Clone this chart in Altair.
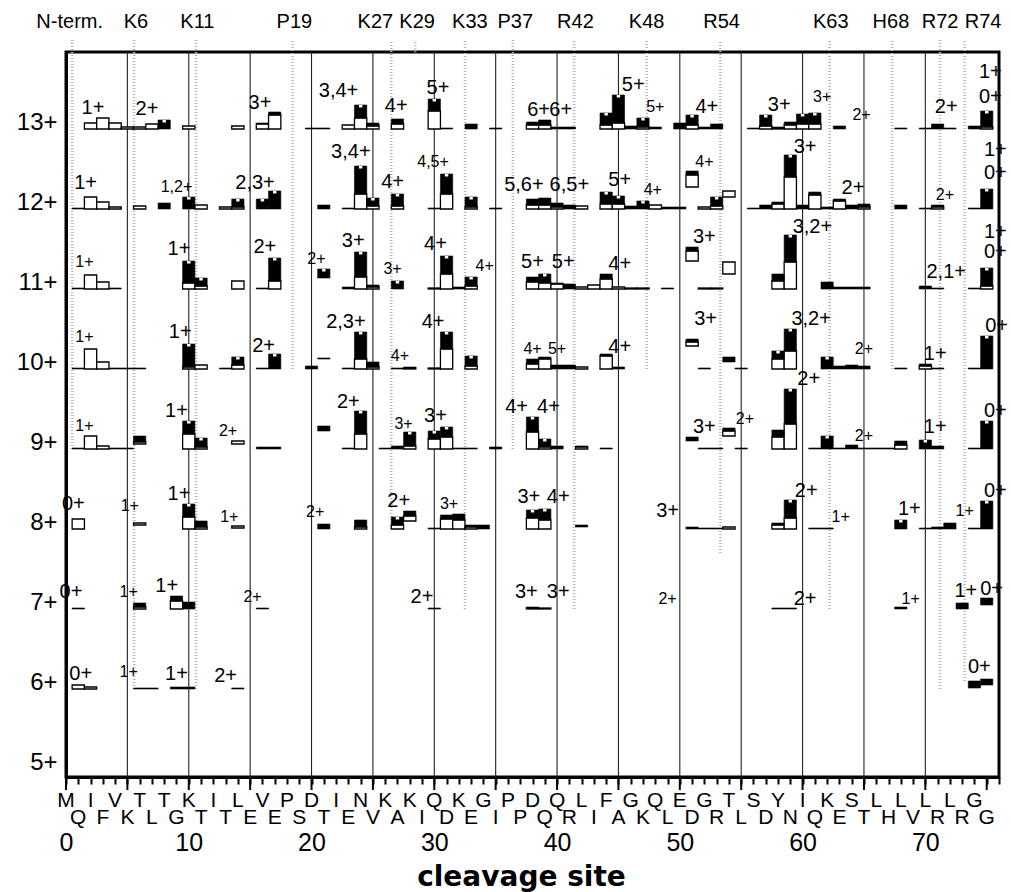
import altair as alt
import pandas as pd

UNIT = 80.0  # abundance units that equal one charge-state row

ROWS = [13, 12, 11, 10, 9, 8, 7, 6]
ROW_TICKS = [5, 6, 7, 8, 9, 10, 11, 12, 13]

# (site, white part, black part, lift)
BARS_13 = [(2,6,0),(3,11,0),(4,6,0),(5,2,0),(6,2,0),(7,5,0),(8,0,9),(10,3,0),(14,3,0),(16,5,1),(17,14,3),
           (20,0,1),(21,0,1),(23,4,0),(24,11,13),(25,3,3),(27,5,5),(30,18,12),(31,0,1),(33,0,5),(35,0,1),
           (38,4,3),(39,4,5),(40,0,2),(41,0,2),(44,4,12),(45,6,28),(46,0,3),(47,2,9),(48,0,2),(50,0,6),
           (51,4,10),(52,0,2),(53,0,5),(56,0,1),(57,3,11),(58,1,1),(59,4,3),(60,5,10),(61,5,11),(63,0,3),
           (68,0,1),(70,0,1),(71,0,5),(72,0,1),(74,0,3),(75,2,16)]
BARS_12 = [(1,0,1),(2,12,0),(3,7,0),(4,2,0),(6,3,0),(8,0,6),(10,0,12),(11,4,0),(13,2,0),(14,2,8),(16,0,10),
           (17,0,18),(21,0,4),(23,0,1),(24,15,28),(25,3,8),(27,3,12),(30,0,1),(31,15,20),(33,2,10),(35,0,1),
           (38,4,6),(39,4,7),(40,2,4),(41,0,4),(42,3,0),(44,5,12),(45,5,8),(46,0,3),(47,0,8),(48,4,0),
           (49,0,2),(50,0,2),(51,12,4,22),(52,2,0),(53,3,9),(54,6,0,12),(56,0,1),(57,0,4),(58,5,2),(59,32,22),
           (60,0,4),(61,14,3),(62,0,2),(63,8,2),(64,0,4),(65,2,3),(68,0,4),(70,0,1),(71,2,2),(74,0,1),(75,0,20)]
BARS_11 = [(1,0,1),(2,14,0),(3,7,0),(4,0,1),(10,6,22),(11,3,8),(14,8,0),(16,0,1),(17,8,23),(21,0,9,11),
           (23,0,2),(24,12,25),(25,2,2),(27,0,8),(30,1,0),(31,15,18),(32,0,2),(33,3,9),(38,7,5),(39,6,9),
           (40,5,1),(41,0,5),(42,2,0),(43,4,0),(44,10,5),(45,2,0),(46,1,0),(47,1,0),(49,0,1),(51,10,4,28),
           (52,1,0),(53,1,0),(54,12,0,15),(58,8,7),(59,27,27),(62,0,7),(63,0,2),(64,0,2),(65,0,2),(70,0,3),
           (71,0,1),(74,0,1),(75,3,18)]
BARS_10 = [(1,0,1),(2,20,0),(3,7,0),(4,0,1),(5,0,1),(6,0,1),(10,2,23),(11,4,0),(13,0,1),(14,4,8),(16,0,1),
           (17,0,15),(20,0,3),(21,0,1,10),(23,0,1),(24,10,27),(25,2,5),(27,0,1),(28,1,1),(30,1,0),(31,20,17),
           (33,3,10),(38,5,5),(39,10,2),(40,0,4),(41,0,4),(42,2,0),(44,13,2),(45,0,2),(51,4,3,23),(52,0,1),
           (54,0,5,7),(55,0,1),(58,10,8),(59,18,22),(62,0,12),(63,0,3),(64,0,4),(65,0,3),(68,0,1),(70,3,2),
           (71,0,1),(74,0,1),(75,0,33)]
BARS_9 = [(1,0,1),(2,13,0),(3,3,0),(4,0,1),(5,0,1),(6,2,6,5),(10,15,13),(11,2,9),(14,3,0,5),(16,0,2),(17,0,2),
          (21,0,5,18),(23,0,1),(24,15,23),(26,0,1),(27,0,3),(28,3,14),(30,10,8),(31,12,10),(32,0,1),(33,0,1),
          (35,0,2),(38,17,15),(39,2,8),(40,0,3),(42,2,1),(44,0,1),(51,0,4,8),(52,0,1),(53,0,1),(54,5,3,13),
          (55,0,1),(58,12,7),(59,25,35),(61,0,1),(62,0,13),(63,0,1),(64,0,4),(65,0,1),(66,0,1),(67,0,1),
          (68,4,4),(70,0,9),(71,0,3),(74,0,1),(75,0,28)]
BARS_8 = [(1,10,0),(6,2,0,4),(10,12,13),(11,2,6),(14,2,0,1),(21,0,5),(24,2,7),(27,4,8),(28,5,5,8),(30,0,1),
          (31,10,4),(32,9,6),(33,2,2),(34,0,4),(38,11,8),(39,9,11),(42,0,2,2),(51,0,2),(52,0,1),(53,0,1),
          (54,2,0),(58,4,2),(59,11,18),(61,0,1),(62,0,1),(68,0,9),(70,0,1),(71,0,2),(72,0,6),(74,0,1),(75,0,28)]
BARS_7 = [(1,0,1),(6,2,4),(9,8,5),(10,0,7),(16,0,1),(30,0,1),(38,1,1),(39,1,0),(58,0,1),(59,0,1),(68,0,2),
          (73,0,6),(75,0,7,4)]
BARS_6 = [(1,4,0),(2,2,0),(6,0,1),(7,0,1),(9,0,2),(10,0,2),(14,0,1),(74,0,7,1),(75,0,6,4)]

# (site, height above row baseline, text, small)
LABELS_13 = [(2.2,21,"1+",0),(6.6,20,"2+",0),(15.8,26,"3+",0),(22.2,38,"3,4+",0),(26.9,23,"4+",0),
             (30.3,41,"5+",0),(38.5,19,"6+",0),(40.3,19,"6+",0),(46.2,44,"5+",0),(48.0,22,"5+",1),
             (52.2,22,"4+",0),(58.1,24,"3+",0),(61.6,32,"3+",1),(64.8,14,"2+",1),(71.7,22,"2+",0),
             (75.3,57,"1+",0),(75.3,32,"0+",0)]
LABELS_12 = [(1.6,26,"1+",0),(9.0,22,"1,2+",1),(15.4,26,"2,3+",0),(23.2,57,"3,4+",0),(26.6,27,"4+",0),
             (29.9,47,"4,5+",1),(37.3,24,"5,6+",0),(41.0,24,"6,5+",0),(45.1,29,"5+",0),(47.8,19,"4+",1),
             (52.0,47,"4+",1),(60.2,62,"3+",0),(64.1,21,"2+",0),(71.6,14,"2+",1),(75.7,59,"1+",0),(75.7,36,"0+",0)]
LABELS_11 = [(1.5,27,"1+",1),(9.2,40,"1+",0),(16.2,42,"2+",0),(20.4,30,"2+",1),(23.4,48,"3+",0),
             (26.6,20,"3+",1),(30.1,45,"4+",0),(34.1,23,"4+",1),(38.0,27,"5+",0),(40.5,27,"5+",0),
             (45.1,25,"4+",0),(52.0,52,"3+",0),(60.8,62,"3,2+",0),(71.7,17,"2,1+",0),(75.7,57,"1+",0),
             (75.7,37,"0+",0)]
LABELS_10 = [(1.5,32,"1+",1),(9.3,37,"1+",0),(16.1,23,"2+",0),(22.8,47,"2,3+",0),(27.2,13,"4+",1),
             (29.9,47,"4+",0),(38.0,20,"4+",1),(40.0,20,"5+",1),(45.1,22,"4+",0),(52.1,50,"3+",0),
             (60.7,50,"3,2+",0),(65.0,20,"2+",1),(70.8,15,"1+",0),(75.8,43,"0+",0)]
LABELS_9 = [(1.5,23,"1+",1),(9.0,38,"1+",0),(13.2,18,"2+",1),(23.0,47,"2+",0),(27.5,25,"3+",1),
            (30.1,33,"3+",0),(36.7,42,"4+",0),(39.3,42,"4+",0),(52.0,22,"3+",0),(55.3,30,"2+",1),
            (60.5,70,"2+",0),(65.0,13,"2+",1),(70.8,22,"1+",0),(75.7,38,"0+",0)]
LABELS_8 = [(0.6,25,"0+",0),(5.2,23,"1+",1),(9.2,35,"1+",0),(13.3,12,"1+",1),(20.3,17,"2+",1),
            (27.1,28,"2+",0),(31.2,25,"3+",1),(37.7,32,"3+",0),(40.1,32,"4+",0),(49.0,18,"3+",0),
            (60.3,38,"2+",0),(63.1,12,"1+",1),(68.7,20,"1+",0),(73.2,18,"1+",1),(75.7,38,"0+",0)]
LABELS_7 = [(0.4,17,"0+",0),(5.1,17,"1+",1),(8.2,23,"1+",0),(15.2,12,"2+",1),(29.0,12,"2+",0),
            (37.5,17,"3+",0),(40.1,17,"3+",0),(49.0,10,"2+",1),(60.2,10,"2+",0),(68.8,10,"1+",1),
            (73.3,18,"1+",0),(75.4,20,"0+",0)]
LABELS_6 = [(1.2,15,"0+",0),(5.1,17,"1+",1),(9.0,15,"1+",0),(13.0,13,"2+",0),(74.4,22,"0+",0)]

BARS = {13: BARS_13, 12: BARS_12, 11: BARS_11, 10: BARS_10, 9: BARS_9, 8: BARS_8, 7: BARS_7, 6: BARS_6}
LABELS = {13: LABELS_13, 12: LABELS_12, 11: LABELS_11, 10: LABELS_10, 9: LABELS_9, 8: LABELS_8,
          7: LABELS_7, 6: LABELS_6}

SEQUENCE = "MQIFVKTLTGKTITLEVEPSDTIENVKAKIQDKEGIPPDQQRLIFAGKQLEDGRTLSDYNIQKESTLHLVLRLRGG"

SITE_NAMES = ["N-term.", "K6", "K11", "P19", "K27", "K29", "K33", "P37", "R42", "K48", "R54", "K63", "H68", "R72", "R74"]
SITE_LABEL_X = [0.3, 5.7, 10.7, 18.6, 25.2, 28.6, 32.9, 36.6, 41.5, 47.3, 53.4, 62.3, 67.2, 71.2, 74.7]
DOTTED_X = [0.5, 5.55, 10.6, 18.45, 26.5, 28.45, 32.5, 36.4, 41.4, 47.3, 53.3, 62.2, 67.3, 71.2, 73.2]
DOTTED_END = [9.0, 6.0, 6.0, 10.0, 8.0, 13.96, 7.0, 9.0, 7.0, 10.0, 7.7, 7.0, 10.0, 6.0, 6.1]
GRID_X = [5, 10, 15, 20, 25, 30, 35, 40, 45, 50, 55, 60, 65, 70]

# ---------- tables ----------
white_rows, black_rows, notch_rows = [], [], []
for row in ROWS:
    for b in BARS[row]:
        pos, w, k = b[0], b[1], b[2]
        lift = b[3] if len(b) > 3 else 0
        y0 = row + lift / UNIT
        y1 = y0 + w / UNIT
        y2 = y1 + k / UNIT
        if w > 0:
            white_rows.append(dict(x=pos - 0.5, x2=pos + 0.5, y=y0, y2=y1))
        if k > 0:
            black_rows.append(dict(x=pos - 0.5, x2=pos + 0.5, y=y1, y2=y2))
        if k >= 8:
            notch_rows.append(dict(x=pos - 0.14, x2=pos + 0.14, y=y2 - 2.5 / UNIT, y2=y2))

label_rows = []
for row in ROWS:
    for (sx, h, t, small) in LABELS[row]:
        label_rows.append(dict(x=sx, y=row + h / UNIT, text=t, size=16 if small else 20))

letters = pd.DataFrame({"x": list(range(len(SEQUENCE))), "text": list(SEQUENCE),
                        "ypx": [749 if i % 2 == 0 else 766 for i in range(len(SEQUENCE))]})
site_df = pd.DataFrame({"x": SITE_LABEL_X, "text": SITE_NAMES})
dotted_df = pd.DataFrame({"x": DOTTED_X, "y": DOTTED_END})
grid_df = pd.DataFrame({"x": GRID_X})
major_df = pd.DataFrame({"x": [0] + GRID_X + [75]})

xscale = alt.Scale(domain=[0, 76], nice=False, zero=False)
yscale = alt.Scale(domain=[4.9, 13.9625], nice=False, zero=False)

xaxis = alt.Axis(values=list(range(0, 77)), labelExpr="datum.value % 10 == 0 ? datum.value : ''",
                 tickSize=7, tickWidth=2, tickColor="black", domainWidth=3, domainColor="black",
                 labelFontSize=25, labelFont="Liberation Sans", labelFontWeight="normal", labelColor="black",
                 labelPadding=46, labelFlush=False, labelOverlap=False, grid=False,
                 title="cleavage site", titleFontSize=28, titleFont="DejaVu Sans", titleFontWeight="bold",
                 titleColor="black", titleBaseline="alphabetic", titleY=108, titleX=455, titleAlign="center")
yaxis = alt.Axis(values=ROW_TICKS, labelExpr="datum.value + '+'", ticks=False, domainWidth=3,
                 domainColor="black", labelFontSize=24, labelFont="Liberation Sans", labelFontWeight="normal",
                 labelColor="black", labelPadding=9, labelOffset=-7, labelBaseline="middle",
                 grid=False, title=None)

X = alt.X("x:Q", scale=xscale, axis=xaxis)
Y = alt.Y("y:Q", scale=yscale, axis=yaxis)

grid = alt.Chart(grid_df).mark_rule(color="#222222", strokeWidth=1.1).encode(x=X)
dotted = alt.Chart(dotted_df).mark_rule(color="#b5b5b5", strokeWidth=2.5, strokeDash=[1, 2]).encode(
    x=X, y=Y, y2=alt.value(-12))
white = alt.Chart(pd.DataFrame(white_rows)).mark_rect(fill="white", stroke="black", strokeWidth=1.3).encode(
    x=X, x2="x2:Q", y=Y, y2="y2:Q")
black = alt.Chart(pd.DataFrame(black_rows)).mark_rect(fill="black", stroke="black", strokeWidth=0.6).encode(
    x=X, x2="x2:Q", y=Y, y2="y2:Q")
notch = alt.Chart(pd.DataFrame(notch_rows)).mark_rect(fill="white").encode(
    x=X, x2="x2:Q", y=Y, y2="y2:Q")
labels = alt.Chart(pd.DataFrame(label_rows)).mark_text(font="Liberation Sans", color="black",
                                                        baseline="middle", align="center").encode(
    x=X, y=Y, text="text:N", size=alt.Size("size:Q", scale=None))
sites = alt.Chart(site_df).mark_text(font="Liberation Sans", fontSize=20, color="black",
                                     baseline="middle", align="center").encode(
    x=X, y=alt.value(-30), text="text:N")
seq = alt.Chart(letters).mark_text(font="Liberation Sans", fontSize=21, color="black",
                                   baseline="middle", align="center").encode(
    x=X, y=alt.Y("ypx:Q", scale=None), text="text:N")
major = alt.Chart(major_df).mark_rule(color="black", strokeWidth=2).encode(
    x=X, y=alt.value(725), y2=alt.value(738))

chart = alt.layer(grid, dotted, white, black, notch, labels, sites, seq, major).properties(
    width=933, height=725,
    autosize=alt.AutoSizeParams(type="none"),
    padding={"left": 66, "top": 52, "right": 12, "bottom": 115},
).configure_view(stroke="black", strokeWidth=3)

chart.save("out.html", embed_options={"renderer": "svg", "actions": False})
